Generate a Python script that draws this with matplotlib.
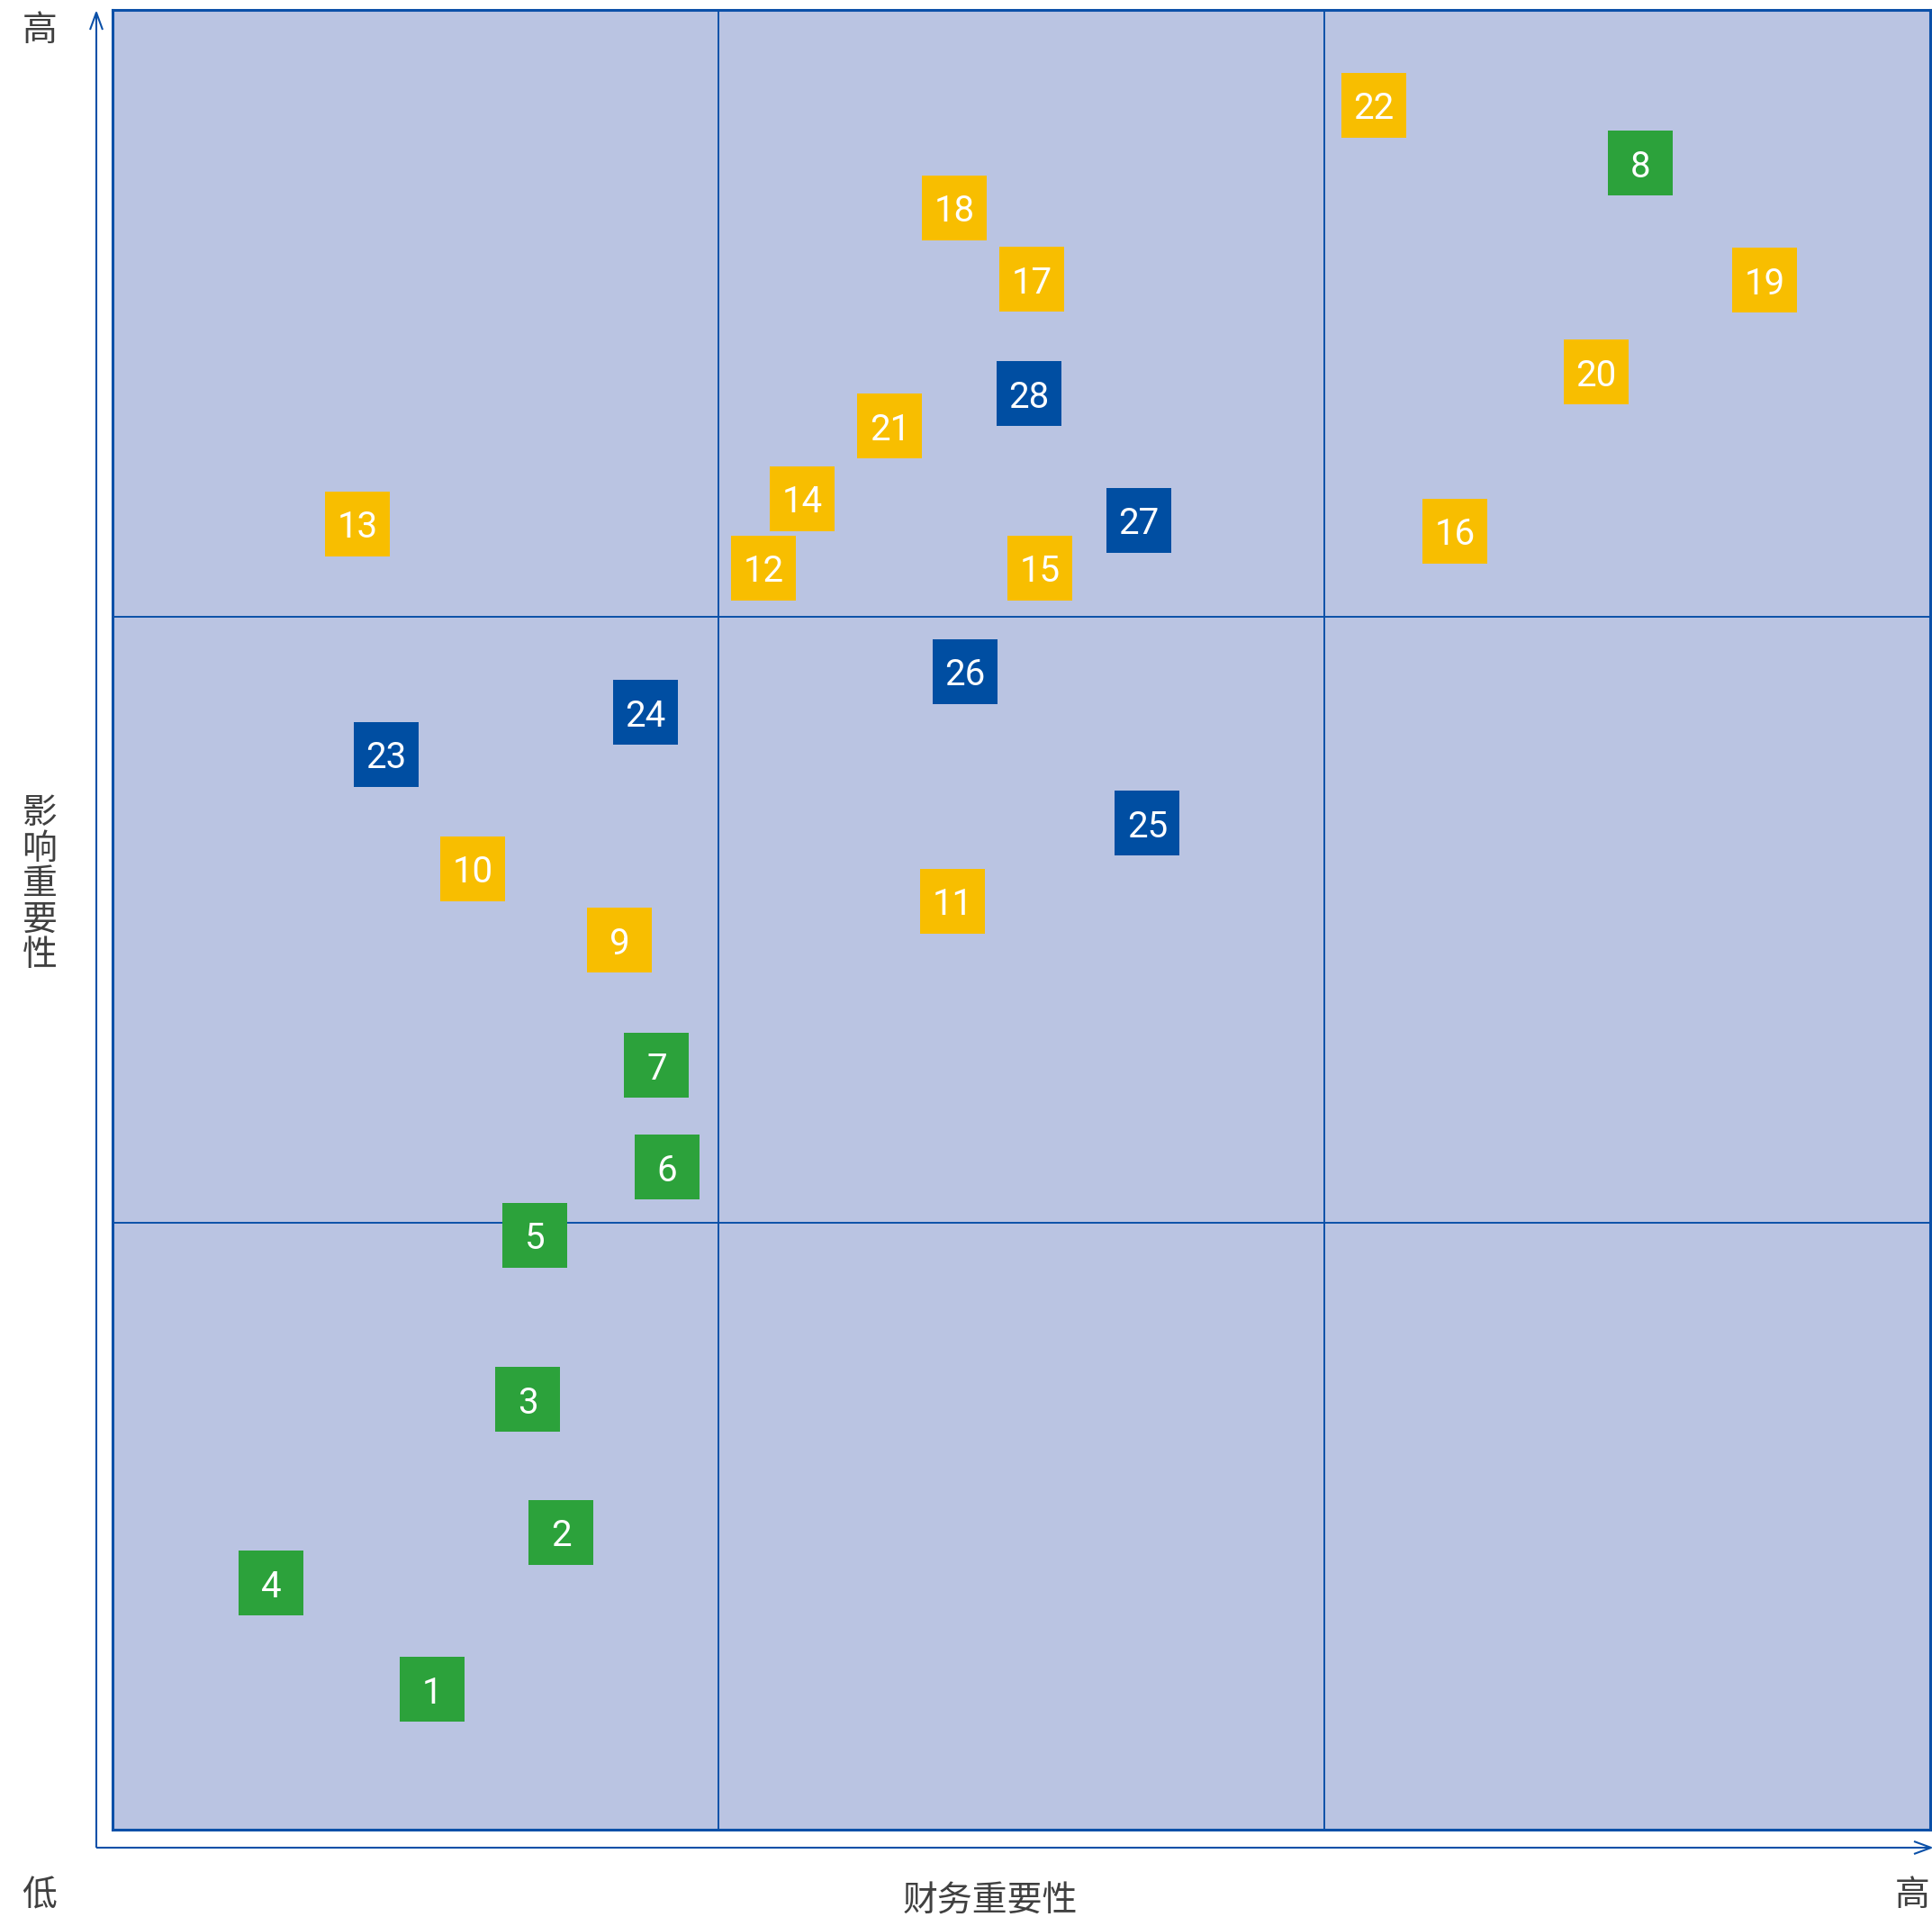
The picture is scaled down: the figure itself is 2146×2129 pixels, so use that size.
import matplotlib
matplotlib.use('Agg')
import matplotlib.pyplot as plt
from matplotlib.lines import Line2D

plt.rcParams['font.family'] = ['Noto Sans CJK SC', 'DejaVu Sans']

# issue numbers and their position on the matrix (0-300 on both axes)
ids = list(range(1, 29))
fin_score = [52.8, 74.0, 68.5, 26.2, 69.7, 91.5, 89.8, 252.1, 83.7, 59.5,
             138.6, 107.5, 40.4, 113.8, 153.1, 221.6, 151.7, 139.0, 272.7, 244.8,
             128.3, 208.2, 45.1, 88.0, 170.8, 140.7, 169.4, 151.3]
imp_score = [23.1, 49.0, 70.9, 40.6, 98.0, 109.2, 126.0, 274.7, 146.6, 158.4,
             153.1, 208.0, 215.3, 219.4, 208.0, 214.1, 255.6, 267.4, 255.4, 240.3,
             231.4, 284.3, 177.3, 184.2, 165.9, 190.9, 215.9, 236.7]
group = ['env'] * 8 + ['soc'] * 14 + ['gov'] * 6

group_colors = {'env': '#2CA23B', 'soc': '#F8BE00', 'gov': '#004EA2'}
line_col = '#0B50A8'
text_col = '#404040'

W, H = 2146, 2129
dpi = 100
fig = plt.figure(figsize=(W / dpi, H / dpi), dpi=dpi)

# plot box in pixels: left 125, right 2144, top 11, bottom 2032
ax = fig.add_axes([125 / W, (H - 2032) / H, (2144 - 125) / W, (2032 - 11) / H])
ax.set_xlim(0, 300)
ax.set_ylim(0, 300)
ax.set_facecolor('#BAC4E2')
for s in ax.spines.values():
    s.set_color(line_col)
    s.set_linewidth(2.2)
ax.set_xticks([])
ax.set_yticks([])
for v in (100, 200):
    ax.axvline(v, color=line_col, lw=1.4)
    ax.axhline(v, color=line_col, lw=1.4)

side = 72 * 72 / dpi  # marker side in points
ax.scatter(fin_score, imp_score, s=side ** 2, marker='s',
           c=[group_colors[g] for g in group], linewidths=0, zorder=3)
for i, x, y in zip(ids, fin_score, imp_score):
    ax.text(x, y, str(i), color='white', fontsize=29, family='Roboto',
            ha='center', va='center_baseline', zorder=4)


# axis arrows drawn in figure pixel coordinates
def px(x, y):
    return x / W, 1 - y / H


def fig_line(xs, ys):
    pts = [px(x, y) for x, y in zip(xs, ys)]
    fig.add_artist(Line2D([p[0] for p in pts], [p[1] for p in pts],
                          transform=fig.transFigure, color=line_col, lw=1.5,
                          solid_capstyle='butt'))


fig_line([107, 107], [2052, 14])
fig_line([100, 107, 114], [33, 14, 33])
fig_line([107, 2145], [2052, 2052])
fig_line([2126, 2145, 2126], [2045, 2052, 2059])

fs = 28
fig.text(*px(44, 34), '高', fontsize=fs, color=text_col, ha='center', va='center')
fig.text(*px(44, 2105), '低', fontsize=fs, color=text_col, ha='center', va='center')
fig.text(*px(2124, 2105), '高', fontsize=fs, color=text_col, ha='center', va='center')
fig.text(*px(1100, 2112), '财务重要性', fontsize=fs, color=text_col,
         ha='center', va='center')
fig.text(*px(44, 982), '影\n响\n重\n要\n性', fontsize=fs, color=text_col,
         ha='center', va='center', linespacing=0.98)

fig.savefig('out.png', dpi=dpi)
